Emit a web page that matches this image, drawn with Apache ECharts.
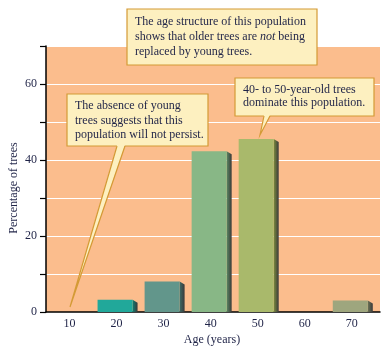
<!DOCTYPE html>
<html><head><meta charset="utf-8">
<script src="https://cdn.jsdelivr.net/npm/echarts@6/dist/echarts.min.js"></script>
<style>html,body{margin:0;padding:0;background:#fff}#c{width:386px;height:352px}</style>
</head><body><div id="c"></div>
<script>
// ---- data ----
var ages = [10, 20, 30, 40, 50, 60, 70];
var percentages = [0, 3.2, 8, 42.3, 45.5, 0, 3];
var yTickLabels = [0, 20, 40, 60];
var xTitle = 'Age (years)';
var yTitle = 'Percentage of trees';
var note1 = ['The age structure of this population', 'shows that older trees are {i|not} being', 'replaced by young trees.'];
var note2 = ['The absence of young', 'trees suggests that this', 'population will not persist.'];
var note3 = ['40- to 50-year-old trees', 'dominate this population.'];

// ---- styles ----
var frontColors = ['#21a89a', '#21a89a', '#62968b', '#88b786', '#a9b96b', '#9ea67e', '#9ea67e'];
var sideColors  = ['#0f7d72', '#0f7d72', '#3e6b65', '#5b8763', '#7c8b3e', '#6c7356', '#6c7356'];
var FONT = '"Liberation Serif", "DejaVu Serif", serif';
var TXT = '#1f2347';
var BOX_FILL = '#fdf0c0';
var BOX_STROKE = '#d49a35';

var chart = echarts.init(document.getElementById('c'));

function box(x, y, w, h, lines, lh, tail) {
  var els = [{
    type: 'rect', shape: {x: x, y: y, width: w, height: h},
    style: {fill: BOX_FILL, stroke: BOX_STROKE, lineWidth: 1.2}, z: 100
  }];
  if (tail) {
    els.push({type: 'polygon', shape: {points: [[tail[0], y + h - 1], [tail[1], y + h - 1], tail[2]]},
      style: {fill: BOX_FILL}, z: 101});
    els.push({type: 'polyline', shape: {points: [[tail[0], y + h], tail[2], [tail[1], y + h]]},
      style: {stroke: BOX_STROKE, lineWidth: 1.2, fill: null}, z: 101});
  }
  els.push({
    type: 'text', x: x + 8, y: y + 5, z: 102,
    style: {text: lines.join('\n'), font: '12px ' + FONT, fill: TXT, lineHeight: lh,
      rich: {i: {fontStyle: 'italic', fontFamily: FONT, fontSize: 12, fill: TXT, lineHeight: lh}}}
  });
  return els;
}

function renderBar(params, api) {
  var xv = api.value(0), yv = api.value(1);
  if (!yv) return;
  var top = api.coord([xv, yv]);
  var base = api.coord([xv, 0]);
  var cx = top[0];
  var x1 = cx - 19, x2 = cx + 16, x3 = cx + 21;
  var idx = params.dataIndex;
  return {
    type: 'group',
    children: [
      {type: 'polygon', shape: {points: [[x2, top[1]], [x3, top[1] + 3], [x3, base[1]], [x2, base[1]]]},
        style: {fill: new echarts.graphic.LinearGradient(0, 0, 1, 0, [
          {offset: 0, color: sideColors[idx]}, {offset: 1, color: '#3a3a3a'}])}},
      {type: 'rect', shape: {x: x1, y: top[1], width: x2 - x1, height: base[1] - top[1]},
        style: {fill: frontColors[idx]}}
    ]
  };
}

chart.setOption({
  animation: false,
  grid: {left: 46, right: 6, top: 46, bottom: 40, show: true, backgroundColor: '#fbbd8d', borderWidth: 0},
  xAxis: {
    type: 'value', min: 5, max: 76,
    axisLine: {show: true, onZero: false, lineStyle: {color: '#000', width: 1.5}},
    axisTick: {show: false},
    splitLine: {show: false},
    axisLabel: {customValues: ages, color: TXT, fontFamily: FONT, fontSize: 12, margin: 6}
  },
  yAxis: {
    type: 'value', min: 0, max: 70, interval: 10,
    axisLine: {show: true, lineStyle: {color: '#000', width: 1.5}},
    axisTick: {show: true, length: 6, lineStyle: {color: '#000', width: 1.2}},
    splitLine: {show: true, lineStyle: {color: '#ffffff', width: 1}},
    axisLabel: {color: TXT, fontFamily: FONT, fontSize: 12, margin: 9,
      formatter: function (v) { return yTickLabels.indexOf(v) >= 0 ? String(v) : ''; }}
  },
  series: [{
    type: 'custom', renderItem: renderBar,
    data: ages.map(function (a, i) { return [a, percentages[i]]; }),
    encode: {x: 0, y: 1}, z: 5
  }],
  graphic: [].concat(
    box(127, 9, 190, 56, note1, 15, null),
    box(67, 94, 141, 52, note2, 14.5, [117, 125, [70, 307]]),
    box(235, 78, 139, 38, note3, 13.5, [264, 270, [260, 135]]),
    [
      {type: 'text', x: 212, y: 340, style: {text: xTitle, font: '12px ' + FONT, fill: TXT, align: 'center', verticalAlign: 'middle'}},
      {type: 'text', x: 14, y: 188, rotation: Math.PI / 2, style: {text: yTitle, font: '12px ' + FONT, fill: TXT, align: 'center', verticalAlign: 'middle'}}
    ]
  )
});
</script></body></html>
